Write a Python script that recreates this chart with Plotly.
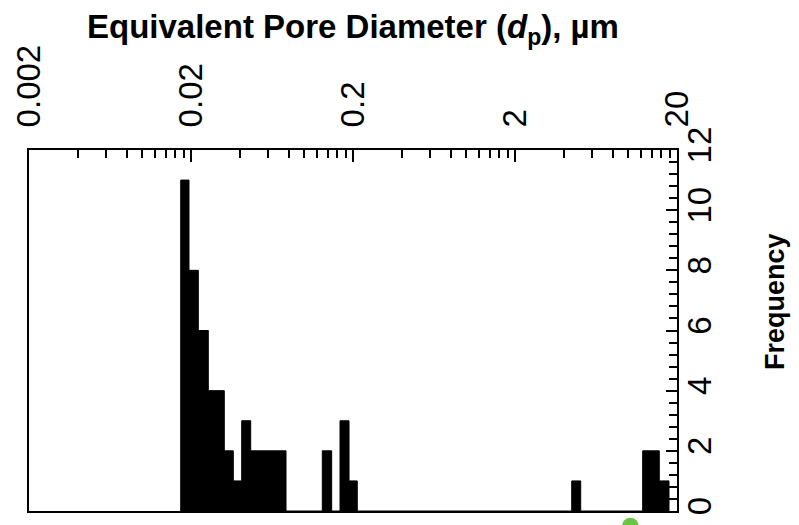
import plotly.graph_objects as go

# Histogram bins (equivalent pore diameter, µm) and frequencies
bin_left = [0.01728, 0.01944, 0.02219, 0.02557, 0.03210, 0.03649, 0.04111, 0.04672,
            0.07718, 0.1293, 0.1477, 0.1663, 0.1890, 0.2125, 4.478, 5.089, 12.28, 15.55]
bin_right = [0.01944, 0.02219, 0.02557, 0.03210, 0.03649, 0.04111, 0.04672, 0.07718,
             0.1293, 0.1477, 0.1663, 0.1890, 0.2125, 4.478, 5.089, 12.28, 15.55, 17.85]
counts = [11, 8, 6, 4, 2, 1, 3, 2,
          0, 2, 0, 3, 1, 0, 1, 0, 2, 1]

x_tick_vals = [0.002, 0.02, 0.2, 2, 20]
x_tick_text = ["0.002", "0.02", "0.2", "2", "20"]
y_tick_vals = [0, 2, 4, 6, 8, 10, 12]

# step outline of the histogram
xs, ys = [bin_left[0]], [0]
for l, r, c in zip(bin_left, bin_right, counts):
    xs += [l, r]
    ys += [c, c]
xs.append(bin_right[-1])
ys.append(0)

x_minor = [m * d for d in (0.002, 0.02, 0.2, 2) for m in (2, 3, 4, 5, 6, 7, 8, 9)]

FONT = "Liberation Sans"

fig = go.Figure()
fig.add_trace(go.Scatter(x=xs, y=ys, mode="lines", fill="tozeroy",
                         fillcolor="black", line=dict(color="black", width=1),
                         hoverinfo="skip", showlegend=False))

fig.update_layout(
    width=799, height=525,
    margin=dict(l=29, r=122, t=150, b=10),
    paper_bgcolor="white", plot_bgcolor="white",
    font=dict(family=FONT, color="black"),
    xaxis=dict(type="log", range=[-2.69897, 1.30103], side="top",
               showline=True, linecolor="black", linewidth=2, mirror=True,
               showgrid=False, zeroline=False,
               tickmode="array", tickvals=x_tick_vals, ticktext=x_tick_text,
               ticks="inside", ticklen=12, tickwidth=1.5, tickcolor="black",
               tickangle=-90, tickfont=dict(size=33, family=FONT),
               ticklabelstandoff=14,
               minor=dict(tickmode="array", tickvals=x_minor, ticks="inside",
                          ticklen=8, tickwidth=1.5, tickcolor="black", showgrid=False)),
    yaxis=dict(range=[0, 12], side="right",
               showline=True, linecolor="black", linewidth=2, mirror=True,
               showgrid=False, zeroline=False,
               tickmode="array", tickvals=y_tick_vals,
               ticks="inside", ticklen=11, tickwidth=1.5, tickcolor="black",
               tickangle=-90, tickfont=dict(size=33, family=FONT),
               ticklabelstandoff=-8,
               minor=dict(dtick=0.4, ticks="inside", ticklen=8, tickwidth=1.5,
                          tickcolor="black", showgrid=False)),
    annotations=[
        dict(text="Equivalent Pore Diameter (<i>d</i><sub>p</sub>), µm",
             xref="paper", yref="paper", x=0.5, y=1.335,
             xanchor="center", yanchor="middle", showarrow=False,
             font=dict(size=33, family=FONT, weight="bold")),
        dict(text="Frequency", xref="paper", yref="paper", x=1.151, y=0.581,
             xanchor="center", yanchor="middle", textangle=-90, showarrow=False,
             font=dict(size=27, family=FONT, weight="bold")),
    ],
    shapes=[dict(type="circle", xref="paper", yref="paper",
                 x0=0.915, x1=0.941, y0=-0.065, y1=-0.019,
                 fillcolor="#6cc644", line=dict(width=0), layer="above")],
)

fig.write_html("out.html")
